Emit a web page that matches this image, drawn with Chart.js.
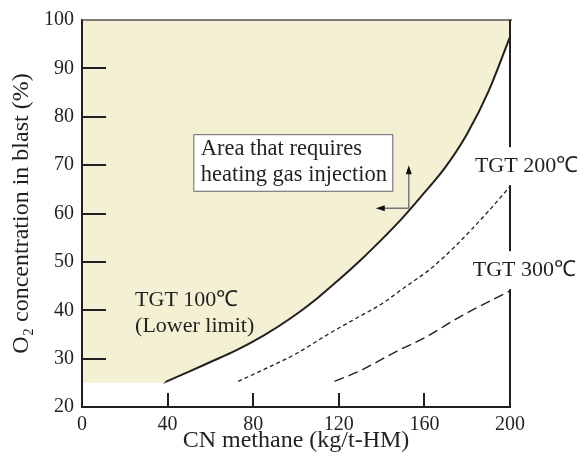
<!DOCTYPE html>
<html>
<head>
<meta charset="utf-8">
<script src="https://cdn.jsdelivr.net/npm/chart.js@4.4.1/dist/chart.umd.min.js"></script>
<style>
  html, body { margin: 0; padding: 0; background: #fff; }
  canvas { display: block; }
</style>
</head>
<body>
<canvas id="chart" width="586" height="466"></canvas>
<script>
// values
const xTicks = [0, 40, 80, 120, 160, 200];
const yTicks = [20, 30, 40, 50, 60, 70, 80, 90, 100];

// TGT 100 (lower limit), solid
const tgt100X = [38, 50, 60, 72, 85, 98, 110, 120, 130, 140, 150, 160, 170, 180, 190, 200];
const tgt100Y = [25, 27.3, 29.3, 31.7, 34.8, 38.5, 42.5, 46.3, 50.3, 54.6, 59.2, 64.3, 69.7, 76.5, 85.3, 96.5];

// TGT 200, short dashes
const tgt200X = [73, 90, 100, 116, 130, 140, 150, 163, 175, 190, 200];
const tgt200Y = [25.3, 28.8, 31, 35.3, 38.8, 41.3, 44.5, 48.6, 53.5, 60.5, 65.6];

// TGT 300, long dashes
const tgt300X = [118, 130, 147, 160, 178, 200];
const tgt300Y = [25.3, 27.5, 31.5, 34.3, 39, 44];

// flat bottom of the shaded area, left of the curve (O2 = 25)
const areaBaseX = [0, 39];
const areaBaseY = [25, 25];

const serif = '"Liberation Serif", "Times New Roman", serif';
const inkColor = '#231f20';
const shade = '#f3f0d4';

function pts(xs, ys) {
    return xs.map((x, i) => ({ x: x, y: ys[i] }));
}

const decor = {
    id: 'decor',
    afterDraw(chart) {
        const { ctx, chartArea: a, scales } = chart;
        const xs = scales.x, ys = scales.y;
        ctx.save();

        // top and right frame
        ctx.strokeStyle = '#555';
        ctx.lineWidth = 1.5;
        ctx.beginPath();
        ctx.moveTo(a.left, a.top);
        ctx.lineTo(a.right + 2, a.top);
        ctx.stroke();
        ctx.strokeStyle = inkColor;
        ctx.lineWidth = 2;
        ctx.beginPath();
        ctx.moveTo(a.right, a.top);
        ctx.lineTo(a.right, a.bottom);
        ctx.stroke();

        // inner tick marks
        ctx.lineWidth = 2;
        xTicks.slice(1, -1).forEach(v => {
            const px = Math.round(xs.getPixelForValue(v));
            ctx.beginPath();
            ctx.moveTo(px, a.bottom);
            ctx.lineTo(px, a.bottom - 14);
            ctx.stroke();
        });
        yTicks.slice(1, -1).forEach(v => {
            const py = Math.round(ys.getPixelForValue(v));
            ctx.beginPath();
            ctx.moveTo(a.left, py);
            ctx.lineTo(a.left + 24, py);
            ctx.stroke();
        });

        ctx.textBaseline = 'middle';
        ctx.textAlign = 'left';

        // annotation box
        const bx1 = xs.getPixelForValue(52), bx2 = xs.getPixelForValue(145);
        const by1 = ys.getPixelForValue(76.4), by2 = ys.getPixelForValue(64.7);
        ctx.fillStyle = '#fff';
        ctx.fillRect(bx1, by1, bx2 - bx1, by2 - by1);
        ctx.strokeStyle = '#666';
        ctx.lineWidth = 1;
        ctx.strokeRect(bx1 + 0.5, by1 + 0.5, bx2 - bx1, by2 - by1);
        ctx.fillStyle = inkColor;
        ctx.font = '22.5px ' + serif;
        ctx.fillText('Area that requires', xs.getPixelForValue(55.5), ys.getPixelForValue(73.3));
        ctx.fillText('heating gas injection', xs.getPixelForValue(55.5), ys.getPixelForValue(67.9));

        // arrows from the curve
        const ax = xs.getPixelForValue(152.7), ay = ys.getPixelForValue(61.1);
        ctx.strokeStyle = '#777';
        ctx.lineWidth = 1.5;
        ctx.beginPath();
        ctx.moveTo(ax, ay);
        ctx.lineTo(ax, ay - 36);
        ctx.moveTo(ax, ay);
        ctx.lineTo(ax - 26, ay);
        ctx.stroke();
        ctx.fillStyle = '#111';
        ctx.beginPath();
        ctx.moveTo(ax, ay - 43);
        ctx.lineTo(ax - 3, ay - 34);
        ctx.lineTo(ax + 3, ay - 34);
        ctx.closePath();
        ctx.fill();
        ctx.beginPath();
        ctx.moveTo(ax - 33, ay);
        ctx.lineTo(ax - 24, ay - 3);
        ctx.lineTo(ax - 24, ay + 3);
        ctx.closePath();
        ctx.fill();

        // curve labels
        ctx.font = '22px ' + serif;
        ctx.fillStyle = inkColor;
        ctx.fillText('TGT 100\u2103', xs.getPixelForValue(24.8), ys.getPixelForValue(42.1));
        ctx.fillText('(Lower limit)', xs.getPixelForValue(24.8), ys.getPixelForValue(36.6));

        [['TGT 200\u2103', 183.6, 69.8], ['TGT 300\u2103', 182.6, 48.3]].forEach(([t, x, y]) => {
            const px = xs.getPixelForValue(x), py = ys.getPixelForValue(y);
            const w = ctx.measureText(t).width;
            ctx.fillStyle = '#fff';
            ctx.fillRect(px - 2, py - 19, w + 4, 38);
            ctx.fillStyle = inkColor;
            ctx.fillText(t, px, py);
        });

        ctx.restore();
    }
};

new Chart(document.getElementById('chart'), {
    type: 'scatter',
    data: {
        datasets: [
            {
                // shaded strip left of the curve
                data: pts(areaBaseX, areaBaseY),
                showLine: true,
                borderWidth: 0,
                pointRadius: 0,
                backgroundColor: shade,
                fill: 'end'
            },
            {
                // lower-limit curve, shaded above
                data: pts(tgt100X, tgt100Y),
                showLine: true,
                borderColor: inkColor,
                borderWidth: 2,
                pointRadius: 0,
                cubicInterpolationMode: 'monotone',
                backgroundColor: shade,
                fill: 'end'
            },
            {
                data: pts(tgt200X, tgt200Y),
                showLine: true,
                borderColor: inkColor,
                borderWidth: 1.3,
                borderDash: [4, 3],
                pointRadius: 0,
                cubicInterpolationMode: 'monotone',
                fill: false
            },
            {
                data: pts(tgt300X, tgt300Y),
                showLine: true,
                borderColor: inkColor,
                borderWidth: 1.4,
                borderDash: [10, 5],
                pointRadius: 0,
                cubicInterpolationMode: 'monotone',
                fill: false
            }
        ]
    },
    options: {
        responsive: false,
        animation: false,
        devicePixelRatio: 1,
        layout: { padding: { top: 20, right: 76, left: 0, bottom: 0 } },
        plugins: {
            legend: { display: false },
            tooltip: { enabled: false }
        },
        scales: {
            x: {
                type: 'linear',
                min: 0,
                max: 200,
                afterBuildTicks: (s) => { s.ticks = xTicks.map(v => ({ value: v })); },
                afterFit: (s) => { s.height = 59; },
                grid: { drawOnChartArea: false, drawTicks: false },
                border: { color: inkColor, width: 2, z: 1 },
                ticks: {
                    padding: 6,
                    color: inkColor,
                    font: { family: serif, size: 20 }
                },
                title: {
                    display: true,
                    text: 'CN methane (kg/t-HM)',
                    color: inkColor,
                    font: { family: serif, size: 24 },
                    padding: { top: 0, bottom: 11 }
                }
            },
            y: {
                type: 'linear',
                min: 20,
                max: 100,
                afterBuildTicks: (s) => { s.ticks = yTicks.map(v => ({ value: v })); },
                afterFit: (s) => { s.width = 82; },
                grid: { drawOnChartArea: false, drawTicks: false },
                border: { color: inkColor, width: 2, z: 1 },
                ticks: {
                    padding: 8,
                    color: inkColor,
                    font: { family: serif, size: 20 }
                },
                title: {
                    display: true,
                    text: 'O\u2082 concentration in blast (%)',
                    color: inkColor,
                    font: { family: serif, size: 24 },
                    padding: { top: 7, bottom: 0 }
                }
            }
        }
    },
    plugins: [decor]
});
</script>
</body>
</html>
